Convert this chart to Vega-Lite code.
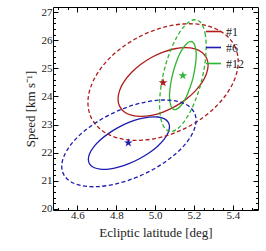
{
  "$schema": "https://vega.github.io/schema/vega-lite/v6.json",
  "width": 205,
  "height": 203,
  "autosize": {"type": "none"},
  "padding": {"left": 53, "top": 7, "right": 8, "bottom": 41},
  "config": {
    "view": {"stroke": "black", "strokeWidth": 1},
    "font": "Liberation Serif",
    "axis": {"domain": false, "grid": false, "tickColor": "black", "tickWidth": 1, "labelColor": "#222", "titleColor": "#222", "labelFont": "Liberation Serif", "titleFont": "Liberation Serif", "titleFontWeight": "normal", "labelOverlap": false, "labelFlush": false}
  },
  "datasets": {
    "ell": [
      {"s":"#1","l":1,"i":0,"x":5.273,"y":25.109},{"s":"#1","l":1,"i":1,"x":5.265,"y":25.365},{"s":"#1","l":1,"i":2,"x":5.242,"y":25.562},{"s":"#1","l":1,"i":3,"x":5.205,"y":25.687},{"s":"#1","l":1,"i":4,"x":5.157,"y":25.733},{"s":"#1","l":1,"i":5,"x":5.101,"y":25.695},{"s":"#1","l":1,"i":6,"x":5.041,"y":25.576},{"s":"#1","l":1,"i":7,"x":4.981,"y":25.385},{"s":"#1","l":1,"i":8,"x":4.925,"y":25.134},{"s":"#1","l":1,"i":9,"x":4.877,"y":24.840},{"s":"#1","l":1,"i":10,"x":4.840,"y":24.524},{"s":"#1","l":1,"i":11,"x":4.817,"y":24.207},{"s":"#1","l":1,"i":12,"x":4.809,"y":23.911},{"s":"#1","l":1,"i":13,"x":4.817,"y":23.655},{"s":"#1","l":1,"i":14,"x":4.840,"y":23.458},{"s":"#1","l":1,"i":15,"x":4.877,"y":23.333},{"s":"#1","l":1,"i":16,"x":4.925,"y":23.287},{"s":"#1","l":1,"i":17,"x":4.981,"y":23.325},{"s":"#1","l":1,"i":18,"x":5.041,"y":23.444},{"s":"#1","l":1,"i":19,"x":5.101,"y":23.635},{"s":"#1","l":1,"i":20,"x":5.157,"y":23.886},{"s":"#1","l":1,"i":21,"x":5.205,"y":24.180},{"s":"#1","l":1,"i":22,"x":5.242,"y":24.496},{"s":"#1","l":1,"i":23,"x":5.265,"y":24.813},
      {"s":"#1","l":2,"i":0,"x":5.428,"y":25.236},{"s":"#1","l":2,"i":1,"x":5.415,"y":25.714},{"s":"#1","l":2,"i":2,"x":5.376,"y":26.110},{"s":"#1","l":2,"i":3,"x":5.315,"y":26.397},{"s":"#1","l":2,"i":4,"x":5.235,"y":26.556},{"s":"#1","l":2,"i":5,"x":5.141,"y":26.575},{"s":"#1","l":2,"i":6,"x":5.041,"y":26.453},{"s":"#1","l":2,"i":7,"x":4.941,"y":26.199},{"s":"#1","l":2,"i":8,"x":4.848,"y":25.830},{"s":"#1","l":2,"i":9,"x":4.767,"y":25.371},{"s":"#1","l":2,"i":10,"x":4.706,"y":24.853},{"s":"#1","l":2,"i":11,"x":4.667,"y":24.312},{"s":"#1","l":2,"i":12,"x":4.654,"y":23.784},{"s":"#1","l":2,"i":13,"x":4.667,"y":23.306},{"s":"#1","l":2,"i":14,"x":4.706,"y":22.910},{"s":"#1","l":2,"i":15,"x":4.767,"y":22.623},{"s":"#1","l":2,"i":16,"x":4.848,"y":22.464},{"s":"#1","l":2,"i":17,"x":4.941,"y":22.445},{"s":"#1","l":2,"i":18,"x":5.041,"y":22.567},{"s":"#1","l":2,"i":19,"x":5.141,"y":22.821},{"s":"#1","l":2,"i":20,"x":5.235,"y":23.190},{"s":"#1","l":2,"i":21,"x":5.315,"y":23.650},{"s":"#1","l":2,"i":22,"x":5.376,"y":24.167},{"s":"#1","l":2,"i":23,"x":5.415,"y":24.708},
      {"s":"#6","l":1,"i":0,"x":5.074,"y":22.919},{"s":"#6","l":1,"i":1,"x":5.067,"y":23.089},{"s":"#6","l":1,"i":2,"x":5.046,"y":23.208},{"s":"#6","l":1,"i":3,"x":5.013,"y":23.268},{"s":"#6","l":1,"i":4,"x":4.970,"y":23.264},{"s":"#6","l":1,"i":5,"x":4.919,"y":23.198},{"s":"#6","l":1,"i":6,"x":4.865,"y":23.073},{"s":"#6","l":1,"i":7,"x":4.811,"y":22.898},{"s":"#6","l":1,"i":8,"x":4.761,"y":22.685},{"s":"#6","l":1,"i":9,"x":4.717,"y":22.449},{"s":"#6","l":1,"i":10,"x":4.684,"y":22.205},{"s":"#6","l":1,"i":11,"x":4.663,"y":21.970},{"s":"#6","l":1,"i":12,"x":4.656,"y":21.761},{"s":"#6","l":1,"i":13,"x":4.663,"y":21.591},{"s":"#6","l":1,"i":14,"x":4.684,"y":21.472},{"s":"#6","l":1,"i":15,"x":4.717,"y":21.412},{"s":"#6","l":1,"i":16,"x":4.761,"y":21.416},{"s":"#6","l":1,"i":17,"x":4.811,"y":21.482},{"s":"#6","l":1,"i":18,"x":4.865,"y":21.607},{"s":"#6","l":1,"i":19,"x":4.919,"y":21.782},{"s":"#6","l":1,"i":20,"x":4.970,"y":21.995},{"s":"#6","l":1,"i":21,"x":5.013,"y":22.231},{"s":"#6","l":1,"i":22,"x":5.046,"y":22.475},{"s":"#6","l":1,"i":23,"x":5.067,"y":22.710},
      {"s":"#6","l":2,"i":0,"x":5.211,"y":23.148},{"s":"#6","l":2,"i":1,"x":5.199,"y":23.459},{"s":"#6","l":2,"i":2,"x":5.165,"y":23.693},{"s":"#6","l":2,"i":3,"x":5.110,"y":23.834},{"s":"#6","l":2,"i":4,"x":5.038,"y":23.872},{"s":"#6","l":2,"i":5,"x":4.955,"y":23.806},{"s":"#6","l":2,"i":6,"x":4.865,"y":23.639},{"s":"#6","l":2,"i":7,"x":4.776,"y":23.382},{"s":"#6","l":2,"i":8,"x":4.692,"y":23.054},{"s":"#6","l":2,"i":9,"x":4.620,"y":22.677},{"s":"#6","l":2,"i":10,"x":4.565,"y":22.276},{"s":"#6","l":2,"i":11,"x":4.531,"y":21.879},{"s":"#6","l":2,"i":12,"x":4.519,"y":21.512},{"s":"#6","l":2,"i":13,"x":4.531,"y":21.202},{"s":"#6","l":2,"i":14,"x":4.565,"y":20.968},{"s":"#6","l":2,"i":15,"x":4.620,"y":20.826},{"s":"#6","l":2,"i":16,"x":4.692,"y":20.788},{"s":"#6","l":2,"i":17,"x":4.776,"y":20.855},{"s":"#6","l":2,"i":18,"x":4.865,"y":21.022},{"s":"#6","l":2,"i":19,"x":4.955,"y":21.278},{"s":"#6","l":2,"i":20,"x":5.038,"y":21.606},{"s":"#6","l":2,"i":21,"x":5.110,"y":21.983},{"s":"#6","l":2,"i":22,"x":5.165,"y":22.384},{"s":"#6","l":2,"i":23,"x":5.199,"y":22.781},
      {"s":"#12","l":1,"i":0,"x":5.212,"y":25.468},{"s":"#12","l":1,"i":1,"x":5.209,"y":25.694},{"s":"#12","l":1,"i":2,"x":5.202,"y":25.856},{"s":"#12","l":1,"i":3,"x":5.192,"y":25.941},{"s":"#12","l":1,"i":4,"x":5.177,"y":25.944},{"s":"#12","l":1,"i":5,"x":5.161,"y":25.866},{"s":"#12","l":1,"i":6,"x":5.143,"y":25.710},{"s":"#12","l":1,"i":7,"x":5.125,"y":25.489},{"s":"#12","l":1,"i":8,"x":5.109,"y":25.217},{"s":"#12","l":1,"i":9,"x":5.095,"y":24.912},{"s":"#12","l":1,"i":10,"x":5.084,"y":24.595},{"s":"#12","l":1,"i":11,"x":5.077,"y":24.288},{"s":"#12","l":1,"i":12,"x":5.074,"y":24.012},{"s":"#12","l":1,"i":13,"x":5.077,"y":23.786},{"s":"#12","l":1,"i":14,"x":5.084,"y":23.625},{"s":"#12","l":1,"i":15,"x":5.095,"y":23.539},{"s":"#12","l":1,"i":16,"x":5.109,"y":23.536},{"s":"#12","l":1,"i":17,"x":5.125,"y":23.614},{"s":"#12","l":1,"i":18,"x":5.143,"y":23.770},{"s":"#12","l":1,"i":19,"x":5.161,"y":23.991},{"s":"#12","l":1,"i":20,"x":5.177,"y":24.263},{"s":"#12","l":1,"i":21,"x":5.192,"y":24.568},{"s":"#12","l":1,"i":22,"x":5.202,"y":24.885},{"s":"#12","l":1,"i":23,"x":5.209,"y":25.192},
      {"s":"#12","l":2,"i":0,"x":5.263,"y":25.773},{"s":"#12","l":2,"i":1,"x":5.259,"y":26.177},{"s":"#12","l":2,"i":2,"x":5.247,"y":26.483},{"s":"#12","l":2,"i":3,"x":5.228,"y":26.670},{"s":"#12","l":2,"i":4,"x":5.203,"y":26.726},{"s":"#12","l":2,"i":5,"x":5.174,"y":26.646},{"s":"#12","l":2,"i":6,"x":5.143,"y":26.436},{"s":"#12","l":2,"i":7,"x":5.112,"y":26.111},{"s":"#12","l":2,"i":8,"x":5.083,"y":25.693},{"s":"#12","l":2,"i":9,"x":5.058,"y":25.209},{"s":"#12","l":2,"i":10,"x":5.039,"y":24.694},{"s":"#12","l":2,"i":11,"x":5.027,"y":24.182},{"s":"#12","l":2,"i":12,"x":5.023,"y":23.707},{"s":"#12","l":2,"i":13,"x":5.027,"y":23.304},{"s":"#12","l":2,"i":14,"x":5.039,"y":22.998},{"s":"#12","l":2,"i":15,"x":5.058,"y":22.811},{"s":"#12","l":2,"i":16,"x":5.083,"y":22.755},{"s":"#12","l":2,"i":17,"x":5.112,"y":22.829},{"s":"#12","l":2,"i":18,"x":5.143,"y":23.044},{"s":"#12","l":2,"i":19,"x":5.174,"y":23.369},{"s":"#12","l":2,"i":20,"x":5.203,"y":23.787},{"s":"#12","l":2,"i":21,"x":5.228,"y":24.271},{"s":"#12","l":2,"i":22,"x":5.247,"y":24.786},{"s":"#12","l":2,"i":23,"x":5.259,"y":25.298}
    ],
    "stars": [
      {"s":"#1","x":5.041,"y":24.49},
      {"s":"#6","x":4.862,"y":22.35},
      {"s":"#12","x":5.143,"y":24.74}
    ]
  },
  "layer": [
    {
      "data": {"name": "ell"},
      "transform": [{"filter": "datum.l === 1"}],
      "mark": {"type": "line", "interpolate": "cardinal-closed", "strokeWidth": 1.3},
      "encoding": {
        "x": {"field": "x", "type": "quantitative", "scale": {"domain": [4.474, 5.53], "nice": false, "zero": false},
          "axis": {"orient": "bottom", "title": "Ecliptic latitude [deg]", "titleFontSize": 13, "titlePadding": 4,
            "values": [4.5,4.55,4.6,4.65,4.7,4.75,4.8,4.85,4.9,4.95,5.0,5.05,5.1,5.15,5.2,5.25,5.3,5.35,5.4,5.45,5.5],
            "tickSize": {"condition": {"test": "abs(round(datum.value*5)-datum.value*5) < 0.01", "value": -5}, "value": -2.5},
            "labelExpr": "abs(round(datum.value*5)-datum.value*5) < 0.01 ? format(datum.value, '.1f') : ''",
            "labelFontSize": 11, "labelPadding": 4}},
        "y": {"field": "y", "type": "quantitative", "scale": {"domain": [19.96, 27.18], "nice": false, "zero": false},
          "axis": {"orient": "left", "title": "Speed [km s⁻¹]", "titleFontSize": 13, "titlePadding": 4,
            "values": [20,20.2,20.4,20.6,20.8,21,21.2,21.4,21.6,21.8,22,22.2,22.4,22.6,22.8,23,23.2,23.4,23.6,23.8,24,24.2,24.4,24.6,24.8,25,25.2,25.4,25.6,25.8,26,26.2,26.4,26.6,26.8,27],
            "tickSize": {"condition": {"test": "abs(round(datum.value)-datum.value) < 0.01", "value": -5}, "value": -2.5},
            "labelExpr": "abs(round(datum.value)-datum.value) < 0.01 ? format(datum.value, 'd') : ''",
            "labelFontSize": 11, "labelPadding": 6}},
        "color": {"field": "s", "type": "nominal", "scale": {"domain": ["#1", "#6", "#12"], "range": ["#b01c1c", "#1c1cb0", "#2fb52f"]},
          "legend": {"orient": "none", "legendX": 152, "legendY": 16, "title": null, "symbolType": "stroke", "symbolSize": 225, "symbolStrokeWidth": 1.6, "labelFont": "Liberation Serif", "labelFontSize": 12, "labelColor": "#222", "rowPadding": 1, "labelOffset": 4, "padding": 0}},
        "order": {"field": "i", "type": "quantitative"}
      }
    },
    {
      "data": {"name": "ell"},
      "transform": [{"filter": "datum.l === 2"}],
      "mark": {"type": "line", "interpolate": "cardinal-closed", "strokeWidth": 1.3, "strokeDash": [4, 2.5]},
      "encoding": {
        "x": {"field": "x", "type": "quantitative",
          "axis": {"orient": "top", "title": null, "labels": false,
            "values": [4.5,4.55,4.6,4.65,4.7,4.75,4.8,4.85,4.9,4.95,5.0,5.05,5.1,5.15,5.2,5.25,5.3,5.35,5.4,5.45,5.5],
            "tickSize": {"condition": {"test": "abs(round(datum.value*5)-datum.value*5) < 0.01", "value": -5}, "value": -2.5}}},
        "y": {"field": "y", "type": "quantitative",
          "axis": {"orient": "right", "title": null, "labels": false,
            "values": [20,20.2,20.4,20.6,20.8,21,21.2,21.4,21.6,21.8,22,22.2,22.4,22.6,22.8,23,23.2,23.4,23.6,23.8,24,24.2,24.4,24.6,24.8,25,25.2,25.4,25.6,25.8,26,26.2,26.4,26.6,26.8,27],
            "tickSize": {"condition": {"test": "abs(round(datum.value)-datum.value) < 0.01", "value": -5}, "value": -2.5}}},
        "color": {"field": "s", "type": "nominal", "legend": null},
        "order": {"field": "i", "type": "quantitative"}
      }
    },
    {
      "data": {"name": "stars"},
      "mark": {"type": "point", "filled": true, "opacity": 1, "size": 85, "shape": "M0,-1L0.2245,-0.309L0.951,-0.309L0.363,0.118L0.588,0.809L0,0.382L-0.588,0.809L-0.363,0.118L-0.951,-0.309L-0.2245,-0.309Z"},
      "encoding": {
        "x": {"field": "x", "type": "quantitative", "axis": null},
        "y": {"field": "y", "type": "quantitative", "axis": null},
        "color": {"field": "s", "type": "nominal", "legend": null}
      }
    }
  ],
  "resolve": {"axis": {"x": "independent", "y": "independent"}}
}
